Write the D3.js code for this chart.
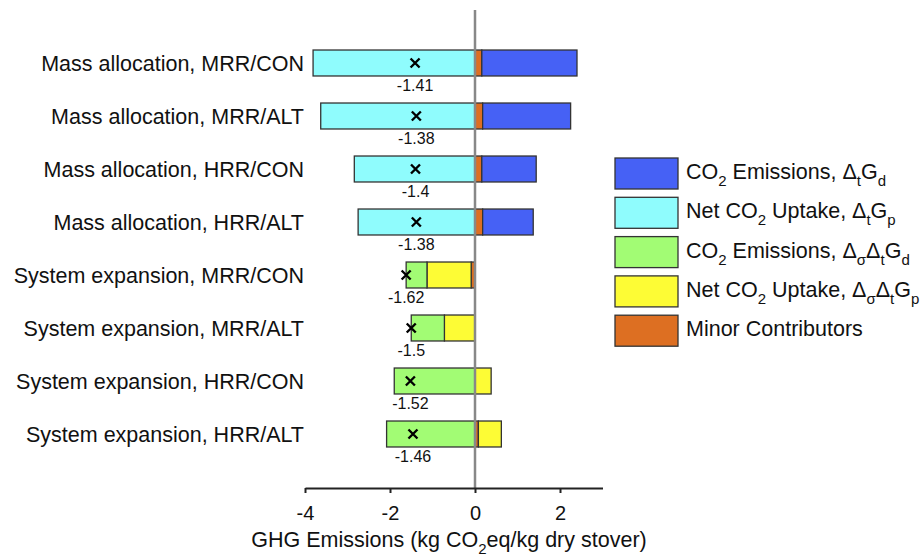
<!DOCTYPE html>
<html>
<head>
<meta charset="utf-8">
<script src="https://cdn.jsdelivr.net/npm/d3@7"></script>
<style>
  html, body { margin: 0; padding: 0; background: #fff; }
  svg { display: block; font-family: "Liberation Sans", Arial, sans-serif; }
</style>
</head>
<body>
<svg id="chart" width="923" height="556"></svg>
<script>
// Scenario names (top to bottom)
const categories = [
  "Mass allocation, MRR/CON",
  "Mass allocation, MRR/ALT",
  "Mass allocation, HRR/CON",
  "Mass allocation, HRR/ALT",
  "System expansion, MRR/CON",
  "System expansion, MRR/ALT",
  "System expansion, HRR/CON",
  "System expansion, HRR/ALT"
];

// Contributions, kg CO2eq / kg dry stover
const minorContributors = [0.16, 0.18, 0.16, 0.18, -0.09, 0, 0, 0.08];
const netUptakeSigma    = [0, 0, 0, 0, -1.04, -0.72, 0.38, 0.54];
const emissionsT        = [2.24, 2.07, 1.28, 1.19, 0, 0, 0, 0];
const netUptakeT        = [-3.81, -3.63, -2.84, -2.75, 0, 0, 0, 0];
const emissionsSigma    = [0, 0, 0, 0, -0.49, -0.78, -1.90, -2.08];

// Net totals printed under each bar
const netTotals = [-1.41, -1.38, -1.4, -1.38, -1.62, -1.5, -1.52, -1.46];

const xTicks = [-4, -2, 0, 2];

const svg = d3.select("#chart");

const x = d3.scaleLinear().domain([-4, 3]).range([305, 602.5]);
const y = d3.scaleBand().domain(categories).range([36.5, 460.5])
  .paddingInner(0.51).paddingOuter(0.255);

// Stack order: closest to zero first
const seriesDefs = [
  { key: "minor", values: minorContributors, color: "#dd6f22" },
  { key: "upSigma", values: netUptakeSigma, color: "#fdfc35" },
  { key: "emT", values: emissionsT, color: "#4661f5" },
  { key: "upT", values: netUptakeT, color: "#8ffcfd" },
  { key: "emSigma", values: emissionsSigma, color: "#a2fc74" }
];

const table = categories.map((c, i) => {
  const row = { category: c };
  seriesDefs.forEach(s => row[s.key] = s.values[i]);
  return row;
});

const stacked = d3.stack()
  .keys(seriesDefs.map(s => s.key))
  .offset(d3.stackOffsetDiverging)(table);

const colorOf = Object.fromEntries(seriesDefs.map(s => [s.key, s.color]));

// Bars
svg.append("g").selectAll("g")
  .data(stacked)
  .join("g")
  .attr("fill", d => colorOf[d.key])
  .selectAll("rect")
  .data(d => d.filter(p => p[1] - p[0] !== 0))
  .join("rect")
  .attr("x", d => x(Math.min(d[0], d[1])))
  .attr("width", d => Math.abs(x(d[1]) - x(d[0])))
  .attr("y", d => y(d.data.category))
  .attr("height", y.bandwidth())
  .attr("stroke", "#333")
  .attr("stroke-width", 1.3);

// Zero line
svg.append("line")
  .attr("x1", x(0)).attr("x2", x(0))
  .attr("y1", 10).attr("y2", 488)
  .attr("stroke", "#888").attr("stroke-width", 2.5);

// Net total markers and labels
const marks = svg.append("g");
categories.forEach((c, i) => {
  const cx = x(netTotals[i]);
  const cy = y(c) + y.bandwidth() / 2;
  const r = 4.5;
  marks.append("path")
    .attr("d", `M${cx - r},${cy - r}L${cx + r},${cy + r}M${cx - r},${cy + r}L${cx + r},${cy - r}`)
    .attr("stroke", "#000").attr("stroke-width", 2.4).attr("fill", "none");
  marks.append("text")
    .attr("x", cx).attr("y", cy + 28)
    .attr("text-anchor", "middle")
    .attr("font-size", 16)
    .attr("fill", "#111")
    .text(String(netTotals[i]));
});

// Category labels
svg.append("g").selectAll("text")
  .data(categories)
  .join("text")
  .attr("x", 304)
  .attr("y", d => y(d) + y.bandwidth() / 2 + 7.7)
  .attr("text-anchor", "end")
  .attr("font-size", 21.5)
  .attr("fill", "#111")
  .text(d => d);

// X axis (plain hyphen for negatives)
const axis = svg.append("g")
  .attr("transform", "translate(0,488)")
  .call(d3.axisBottom(x).tickValues(xTicks).tickSize(5).tickSizeOuter(0).tickFormat(d => String(d)));
axis.select(".domain").attr("stroke", "#222").attr("stroke-width", 2);
axis.selectAll(".tick line").attr("stroke", "#222").attr("stroke-width", 2);
axis.selectAll(".tick text")
  .attr("font-size", 20)
  .attr("font-family", "Liberation Sans, Arial, sans-serif")
  .attr("fill", "#111")
  .attr("dy", null)
  .attr("y", 31.5);

// Axis title with subscript
const title = svg.append("text")
  .attr("x", 449).attr("y", 547)
  .attr("text-anchor", "middle")
  .attr("font-size", 21.5)
  .attr("fill", "#111");
title.append("tspan").text("GHG Emissions (kg CO");
title.append("tspan").attr("font-size", 15).attr("dy", 7).text("2");
title.append("tspan").attr("dy", -7).text("eq/kg dry stover)");

// Legend
const legendItems = [
  { color: "#4661f5", parts: [["CO", 0], ["2", 1], [" Emissions, Δ", 0], ["t", 1], ["G", 0], ["d", 1]] },
  { color: "#8ffcfd", parts: [["Net CO", 0], ["2", 1], [" Uptake, Δ", 0], ["t", 1], ["G", 0], ["p", 1]] },
  { color: "#a2fc74", parts: [["CO", 0], ["2", 1], [" Emissions, Δ", 0], ["σ", 1], ["Δ", 0], ["t", 1], ["G", 0], ["d", 1]] },
  { color: "#fdfc35", parts: [["Net CO", 0], ["2", 1], [" Uptake, Δ", 0], ["σ", 1], ["Δ", 0], ["t", 1], ["G", 0], ["p", 1]] },
  { color: "#dd6f22", parts: [["Minor Contributors", 0]] }
];

const legend = svg.append("g");
legendItems.forEach((item, i) => {
  const top = 158 + i * 39.3;
  legend.append("rect")
    .attr("x", 615).attr("y", top)
    .attr("width", 63).attr("height", 31)
    .attr("fill", item.color)
    .attr("stroke", "#333").attr("stroke-width", 1.3);
  const t = legend.append("text")
    .attr("x", 686).attr("y", top + 21)
    .attr("font-size", 21.5)
    .attr("fill", "#111");
  let level = 0;
  item.parts.forEach(([s, sub]) => {
    const dy = (sub - level) * 7;
    level = sub;
    t.append("tspan")
      .attr("dy", dy)
      .attr("font-size", sub ? 15 : 21.5)
      .text(s);
  });
});
</script>
</body>
</html>
